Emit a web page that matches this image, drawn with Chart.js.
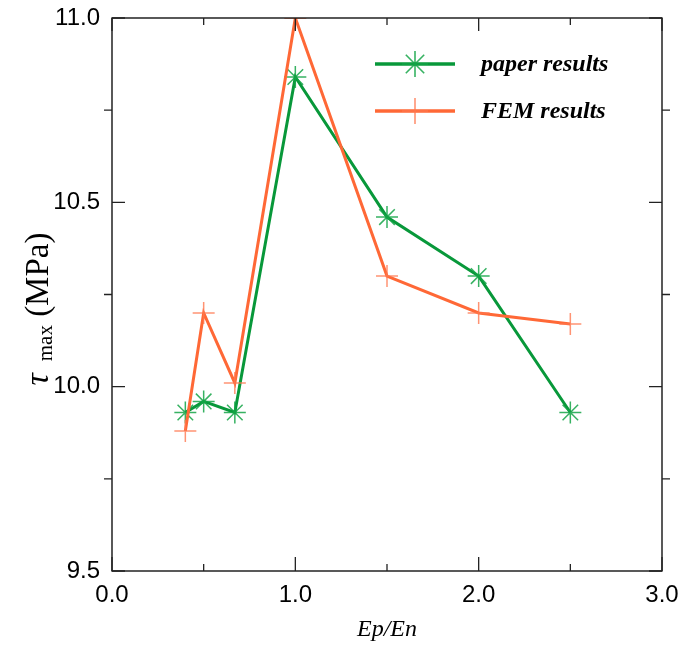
<!DOCTYPE html>
<html><head><meta charset="utf-8">
<script src="https://cdn.jsdelivr.net/npm/chart.js@4/dist/chart.umd.min.js"></script>
<style>html,body{margin:0;padding:0;background:#fff}#wrap{width:682px;height:646px}</style>
</head><body><div id="wrap"><canvas id="c" width="682" height="646"></canvas></div>
<script>
// ---- data ----
const ratios = [0.4, 0.5, 0.67, 1.0, 1.5, 2.0, 2.5];
const paperResults = [9.93, 9.96, 9.93, 10.84, 10.46, 10.30, 9.93];
const femResults = [9.88, 10.20, 10.01, 11.0, 10.30, 10.20, 10.17];
const xMajorTicks = [0, 1, 2, 3];
const xMinorTicks = [0.5, 1.5, 2.5];
const yMajorTicks = [9.5, 10.0, 10.5, 11.0];
const yMinorTicks = [9.75, 10.25, 10.75];
const seriesNames = ['paper results', 'FEM results'];

const GREEN = '#08983a', GREEN_M = 'rgba(20,165,70,0.85)';
const ORANGE = '#ff6836', ORANGE_M = 'rgba(255,120,80,0.8)';

const toPts = (xs, ys) => xs.map((x, i) => ({x, y: ys[i]}));

const framePlugin = {
  id: 'frame',
  afterDraw(chart) {
    const {ctx, chartArea: a, scales: {x, y}} = chart;
    ctx.save();
    ctx.strokeStyle = '#000';
    ctx.lineWidth = 1.3;
    ctx.strokeRect(a.left, a.top, a.right - a.left, a.bottom - a.top);
    ctx.strokeStyle = '#222';
    ctx.beginPath();
    xMajorTicks.forEach(v => { const p = x.getPixelForValue(v);
      ctx.moveTo(p, a.bottom); ctx.lineTo(p, a.bottom - 14);
      ctx.moveTo(p, a.top); ctx.lineTo(p, a.top + 13); });
    xMinorTicks.forEach(v => { const p = x.getPixelForValue(v);
      ctx.moveTo(p, a.bottom); ctx.lineTo(p, a.bottom - 7);
      ctx.moveTo(p, a.top); ctx.lineTo(p, a.top + 7); });
    yMajorTicks.forEach(v => { const p = y.getPixelForValue(v);
      ctx.moveTo(a.left, p); ctx.lineTo(a.left + 13, p);
      ctx.moveTo(a.right, p); ctx.lineTo(a.right - 13, p); });
    yMinorTicks.forEach(v => { const p = y.getPixelForValue(v);
      ctx.moveTo(a.left, p); ctx.lineTo(a.left - 8, p);
      ctx.moveTo(a.right, p); ctx.lineTo(a.right + 8, p); });
    ctx.stroke();

    // x title
    ctx.fillStyle = '#000';
    ctx.font = 'italic 24px "Liberation Serif"';
    ctx.textAlign = 'center'; ctx.textBaseline = 'alphabetic';
    ctx.fillText('Ep/En', (a.left + a.right) / 2, 636);

    // y title: τ max (MPa)
    ctx.translate(39, 309);
    ctx.rotate(-Math.PI / 2);
    const parts = [
      {t: '\u03C4', f: 'italic 34px "Liberation Serif"', dy: 0},
      {t: '  ', f: '24px "Liberation Serif"', dy: 0},
      {t: 'max', f: '21px "Liberation Serif"', dy: 7},
      {t: ' (MPa)', f: '33px "Liberation Serif"', dy: 0}
    ];
    let total = 0;
    parts.forEach(p => { ctx.font = p.f; p.w = ctx.measureText(p.t).width; total += p.w; });
    let cx = -total / 2;
    ctx.textAlign = 'left'; ctx.textBaseline = 'middle';
    parts.forEach(p => { ctx.font = p.f; ctx.fillText(p.t, cx, p.dy); cx += p.w; });
    ctx.restore();

    // legend
    ctx.save();
    const items = [
      {name: seriesNames[0], line: GREEN, mark: GREEN_M, style: 'star', y: 64},
      {name: seriesNames[1], line: ORANGE, mark: ORANGE_M, style: 'cross', y: 111}
    ];
    items.forEach(it => {
      ctx.strokeStyle = it.line; ctx.lineWidth = 3.5;
      ctx.beginPath(); ctx.moveTo(375, it.y); ctx.lineTo(455, it.y); ctx.stroke();
      ctx.strokeStyle = it.mark; ctx.fillStyle = 'transparent'; ctx.lineWidth = 1.6;
      Chart.helpers.drawPoint(ctx, {pointStyle: it.style, radius: 13, rotation: 0, borderWidth: 1.6}, 415, it.y);
      ctx.fillStyle = '#000';
      ctx.font = 'italic bold 24px "Liberation Serif"';
      ctx.textAlign = 'left'; ctx.textBaseline = 'middle';
      ctx.fillText(it.name, 481, it.y + 1);
    });
    ctx.restore();
  }
};

new Chart(document.getElementById('c'), {
  type: 'line',
  data: {
    datasets: [
      {label: seriesNames[0], data: toPts(ratios, paperResults), borderColor: GREEN, borderWidth: 3,
       pointStyle: 'star', pointRadius: 11, pointBorderColor: GREEN_M, pointBorderWidth: 1.5,
       pointBackgroundColor: 'transparent', tension: 0, order: 1},
      {label: seriesNames[1], data: toPts(ratios, femResults), borderColor: ORANGE, borderWidth: 3,
       pointStyle: 'cross', pointRadius: 11, pointBorderColor: ORANGE_M, pointBorderWidth: 1.5,
       pointBackgroundColor: 'transparent', tension: 0, order: 0}
    ]
  },
  options: {
    responsive: false, animation: false,
    layout: {padding: {top: 18, right: 20, left: 0, bottom: 0}},
    plugins: {legend: {display: false}, tooltip: {enabled: false}},
    scales: {
      x: {type: 'linear', min: 0, max: 3,
          grid: {display: false}, border: {display: false},
          afterFit: s => { s.height = 75; s.paddingLeft = 0; s.paddingRight = 0; },
          afterBuildTicks: s => { s.ticks = xMajorTicks.map(v => ({value: v})); },
          ticks: {color: '#000', font: {family: '"Liberation Sans"', size: 24}, padding: 2,
                  maxRotation: 0, autoSkip: false, callback: v => Number(v).toFixed(1)}},
      y: {type: 'linear', min: 9.5, max: 11.0,
          grid: {display: false}, border: {display: false},
          afterFit: s => { s.width = 112; s.paddingTop = 0; s.paddingBottom = 0; },
          afterBuildTicks: s => { s.ticks = yMajorTicks.map(v => ({value: v})); },
          ticks: {color: '#000', font: {family: '"Liberation Sans"', size: 24}, padding: 4,
                  autoSkip: false, callback: v => Number(v).toFixed(1)}}
    }
  },
  plugins: [framePlugin]
});
</script></body></html>
